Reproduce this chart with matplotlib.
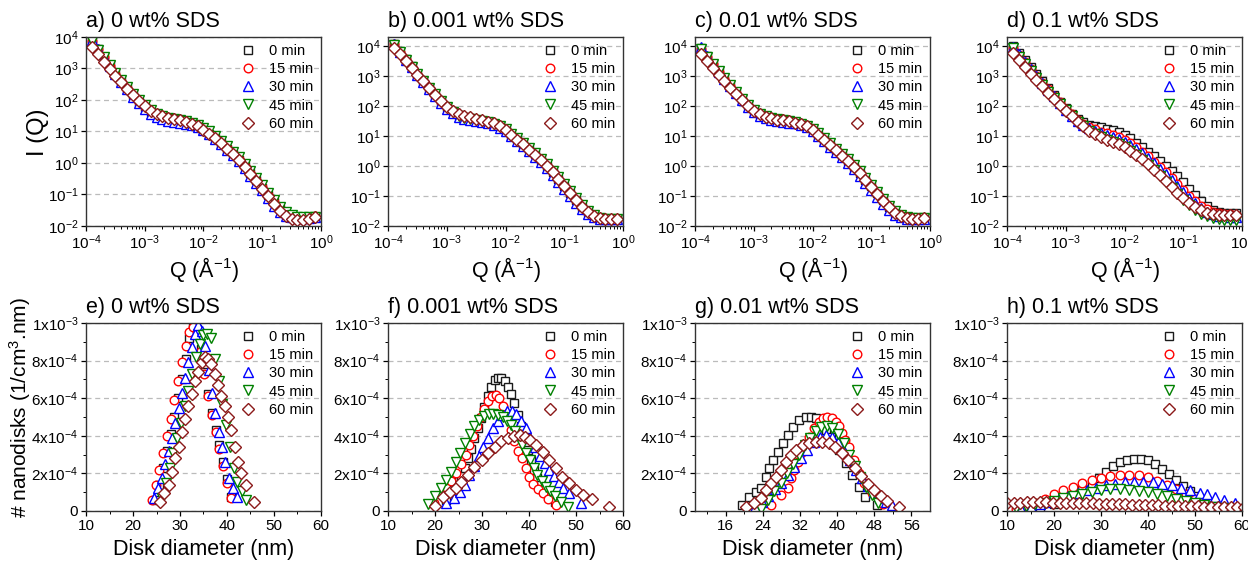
import matplotlib
matplotlib.use("Agg")
import matplotlib.pyplot as plt
import numpy as np
from matplotlib.ticker import LogLocator, NullLocator, MultipleLocator, FixedLocator, FixedFormatter

plt.rcParams['font.family'] = ['Liberation Sans', 'DejaVu Sans']
plt.rcParams['mathtext.fontset'] = 'custom'
plt.rcParams['mathtext.rm'] = 'Liberation Sans'
plt.rcParams['mathtext.it'] = 'Liberation Sans:italic'
plt.rcParams['mathtext.bf'] = 'Liberation Sans:bold'

# ---- SAXS curves: log10(Q) grid and log10(I) for each time ----
LOGQ = [-3.9, -3.8, -3.7, -3.6, -3.5, -3.4, -3.3, -3.2, -3.1, -3.0,
        -2.9, -2.8, -2.7, -2.6, -2.5, -2.4, -2.3, -2.2, -2.1, -2.0,
        -1.9, -1.8, -1.7, -1.6, -1.5, -1.4, -1.3, -1.2, -1.1, -1.0,
        -0.9, -0.8, -0.7, -0.6, -0.5, -0.4, -0.3, -0.2, -0.1]

# a) 0 wt% SDS
A_0 = [3.90, 3.62, 3.36, 3.10, 2.85, 2.61, 2.38, 2.16, 1.95, 1.78, 1.63, 1.52, 1.45, 1.40, 1.36, 1.32, 1.28, 1.23, 1.15, 1.05,
       0.93, 0.79, 0.63, 0.46, 0.29, 0.11, -0.10, -0.32, -0.55, -0.78, -1.02, -1.25, -1.46, -1.61, -1.69, -1.72, -1.72, -1.71, -1.70]
A_15 = [3.88, 3.61, 3.35, 3.09, 2.84, 2.60, 2.37, 2.15, 1.95, 1.78, 1.64, 1.53, 1.46, 1.41, 1.37, 1.33, 1.29, 1.24, 1.16, 1.06,
        0.94, 0.80, 0.64, 0.47, 0.30, 0.12, -0.09, -0.31, -0.54, -0.77, -1.01, -1.24, -1.45, -1.60, -1.68, -1.71, -1.71, -1.70, -1.69]
A_30 = [3.92, 3.63, 3.36, 3.09, 2.83, 2.58, 2.34, 2.11, 1.90, 1.72, 1.57, 1.46, 1.39, 1.34, 1.31, 1.28, 1.25, 1.21, 1.14, 1.04,
        0.91, 0.76, 0.60, 0.42, 0.24, 0.05, -0.17, -0.40, -0.63, -0.87, -1.12, -1.36, -1.56, -1.68, -1.73, -1.75, -1.75, -1.74, -1.73]
A_45 = [3.86, 3.60, 3.35, 3.10, 2.86, 2.63, 2.41, 2.20, 2.00, 1.83, 1.68, 1.57, 1.49, 1.44, 1.40, 1.37, 1.33, 1.28, 1.21, 1.12,
        1.00, 0.86, 0.70, 0.53, 0.36, 0.18, -0.02, -0.24, -0.47, -0.70, -0.94, -1.18, -1.40, -1.57, -1.66, -1.70, -1.71, -1.71, -1.70]
A_60 = [3.68, 3.45, 3.22, 2.99, 2.77, 2.56, 2.36, 2.15, 1.96, 1.80, 1.66, 1.56, 1.49, 1.44, 1.40, 1.36, 1.31, 1.25, 1.16, 1.05,
        0.92, 0.78, 0.62, 0.44, 0.27, 0.08, -0.14, -0.36, -0.58, -0.82, -1.06, -1.30, -1.52, -1.68, -1.77, -1.80, -1.80, -1.78, -1.73]

# b) 0.001 wt% SDS
B_0 = [4.08, 3.82, 3.57, 3.32, 3.08, 2.84, 2.61, 2.38, 2.16, 1.97, 1.82, 1.71, 1.64, 1.59, 1.55, 1.51, 1.47, 1.41, 1.32, 1.20,
       1.05, 0.89, 0.73, 0.56, 0.39, 0.20, 0.01, -0.20, -0.42, -0.65, -0.89, -1.12, -1.35, -1.54, -1.67, -1.74, -1.77, -1.77, -1.76]
B_15 = [4.06, 3.80, 3.56, 3.31, 3.07, 2.83, 2.60, 2.37, 2.15, 1.96, 1.81, 1.70, 1.63, 1.58, 1.54, 1.50, 1.46, 1.40, 1.31, 1.19,
        1.04, 0.88, 0.72, 0.55, 0.38, 0.19, 0.00, -0.21, -0.43, -0.66, -0.90, -1.13, -1.36, -1.55, -1.68, -1.74, -1.77, -1.77, -1.76]
B_30 = [4.08, 3.81, 3.55, 3.29, 3.04, 2.80, 2.56, 2.33, 2.11, 1.91, 1.76, 1.65, 1.58, 1.53, 1.49, 1.46, 1.42, 1.37, 1.28, 1.16,
        1.01, 0.84, 0.67, 0.49, 0.31, 0.12, -0.08, -0.29, -0.52, -0.75, -0.99, -1.22, -1.44, -1.61, -1.71, -1.76, -1.78, -1.78, -1.77]
B_45 = [4.04, 3.79, 3.55, 3.31, 3.07, 2.84, 2.61, 2.39, 2.17, 1.96, 1.79, 1.67, 1.60, 1.56, 1.53, 1.50, 1.46, 1.41, 1.33, 1.22,
        1.08, 0.93, 0.77, 0.60, 0.43, 0.25, 0.06, -0.15, -0.37, -0.60, -0.84, -1.07, -1.30, -1.50, -1.64, -1.72, -1.76, -1.77, -1.76]
B_60 = [3.95, 3.73, 3.50, 3.27, 3.04, 2.82, 2.60, 2.38, 2.16, 1.98, 1.84, 1.74, 1.67, 1.62, 1.57, 1.53, 1.48, 1.42, 1.33, 1.20,
        1.04, 0.88, 0.72, 0.55, 0.38, 0.19, 0.00, -0.21, -0.43, -0.66, -0.90, -1.12, -1.35, -1.54, -1.67, -1.74, -1.77, -1.77, -1.76]

# c) 0.01 wt% SDS
C_0 = [3.92, 3.66, 3.41, 3.16, 2.92, 2.69, 2.46, 2.24, 2.03, 1.85, 1.73, 1.64, 1.59, 1.55, 1.52, 1.49, 1.45, 1.40, 1.32, 1.21,
       1.05, 0.88, 0.71, 0.53, 0.36, 0.17, -0.02, -0.23, -0.45, -0.68, -0.91, -1.14, -1.37, -1.55, -1.66, -1.72, -1.74, -1.74, -1.73]
C_15 = [3.90, 3.65, 3.40, 3.15, 2.91, 2.68, 2.45, 2.23, 2.02, 1.84, 1.72, 1.64, 1.59, 1.55, 1.52, 1.49, 1.45, 1.40, 1.32, 1.21,
        1.05, 0.88, 0.71, 0.53, 0.36, 0.17, -0.02, -0.23, -0.45, -0.68, -0.91, -1.14, -1.37, -1.55, -1.66, -1.72, -1.74, -1.74, -1.73]
C_30 = [3.96, 3.68, 3.41, 3.15, 2.90, 2.66, 2.42, 2.19, 1.98, 1.80, 1.68, 1.60, 1.55, 1.51, 1.48, 1.45, 1.42, 1.37, 1.29, 1.17,
        1.01, 0.83, 0.65, 0.47, 0.29, 0.09, -0.11, -0.33, -0.56, -0.79, -1.03, -1.26, -1.48, -1.63, -1.71, -1.75, -1.76, -1.76, -1.76]
C_45 = [3.90, 3.65, 3.41, 3.17, 2.93, 2.70, 2.47, 2.25, 2.04, 1.86, 1.74, 1.66, 1.60, 1.56, 1.53, 1.50, 1.46, 1.41, 1.34, 1.24,
        1.09, 0.93, 0.76, 0.58, 0.41, 0.22, 0.03, -0.18, -0.40, -0.63, -0.86, -1.09, -1.32, -1.51, -1.63, -1.70, -1.73, -1.74, -1.73]
C_60 = [3.72, 3.49, 3.26, 3.04, 2.82, 2.61, 2.40, 2.19, 1.99, 1.83, 1.72, 1.64, 1.59, 1.55, 1.52, 1.49, 1.45, 1.40, 1.32, 1.21,
        1.04, 0.87, 0.70, 0.52, 0.35, 0.16, -0.03, -0.24, -0.46, -0.69, -0.92, -1.15, -1.38, -1.56, -1.67, -1.73, -1.75, -1.75, -1.74]

# d) 0.1 wt% SDS
D_0 = [4.00, 3.76, 3.52, 3.29, 3.06, 2.83, 2.60, 2.38, 2.15, 1.93, 1.74, 1.58, 1.46, 1.38, 1.33, 1.29, 1.25, 1.20, 1.13, 1.04,
       0.92, 0.78, 0.63, 0.48, 0.33, 0.17, 0.01, -0.16, -0.34, -0.54, -0.76, -0.97, -1.17, -1.33, -1.45, -1.52, -1.55, -1.56, -1.56]
D_15 = [3.95, 3.70, 3.47, 3.24, 3.01, 2.78, 2.56, 2.34, 2.12, 1.91, 1.72, 1.55, 1.41, 1.30, 1.22, 1.15, 1.09, 1.03, 0.96, 0.87,
        0.76, 0.63, 0.48, 0.32, 0.15, -0.03, -0.21, -0.40, -0.60, -0.80, -0.99, -1.17, -1.32, -1.44, -1.52, -1.57, -1.60, -1.61, -1.62]
D_30 = [3.98, 3.72, 3.48, 3.24, 3.00, 2.77, 2.54, 2.32, 2.10, 1.88, 1.68, 1.51, 1.37, 1.26, 1.17, 1.10, 1.03, 0.97, 0.90, 0.81,
        0.70, 0.57, 0.42, 0.26, 0.09, -0.09, -0.28, -0.47, -0.67, -0.87, -1.06, -1.24, -1.40, -1.52, -1.60, -1.65, -1.68, -1.69, -1.70]
D_45 = [3.92, 3.65, 3.40, 3.16, 2.93, 2.70, 2.48, 2.27, 2.06, 1.86, 1.66, 1.48, 1.32, 1.18, 1.06, 0.96, 0.88, 0.80, 0.72, 0.62,
        0.50, 0.37, 0.21, 0.04, -0.14, -0.33, -0.53, -0.73, -0.93, -1.12, -1.30, -1.46, -1.59, -1.68, -1.74, -1.77, -1.79, -1.80, -1.80]
D_60 = [3.76, 3.52, 3.30, 3.08, 2.87, 2.66, 2.45, 2.25, 2.05, 1.85, 1.66, 1.48, 1.32, 1.18, 1.06, 0.96, 0.88, 0.80, 0.72, 0.62,
        0.51, 0.38, 0.22, 0.06, -0.12, -0.31, -0.50, -0.70, -0.90, -1.08, -1.24, -1.38, -1.48, -1.55, -1.60, -1.62, -1.63, -1.62, -1.62]

# ---- size distributions: diameter (nm) and number (x1e-4 1/cm3.nm) ----
# e) 0 wt% SDS
E0_X = [24.8, 25.6, 26.4, 27.2, 28.0, 28.8, 29.6, 30.4, 31.2, 32.0, 32.8, 33.6, 34.4, 35.2, 36.0, 36.8, 37.6, 38.4, 39.2, 40.0, 40.8]
E0_Y = [0.6, 1.4, 2.3, 3.2, 4.1, 5.0, 6.0, 7.0, 8.1, 9.2, 10.0, 9.7, 8.6, 7.4, 6.2, 5.2, 4.3, 3.5, 2.6, 1.7, 0.75]
E15_X = [24.0, 24.8, 25.6, 26.4, 27.2, 28.0, 28.8, 29.6, 30.4, 31.2, 32.0, 32.8, 33.6, 34.4, 35.2, 36.0, 36.8, 37.6, 38.4, 39.2, 40.0, 40.8]
E15_Y = [0.6, 1.4, 2.2, 3.1, 4.0, 4.9, 5.9, 6.9, 7.9, 8.8, 9.5, 9.8, 9.5, 8.5, 7.3, 6.1, 5.1, 4.2, 3.3, 2.4, 1.5, 0.7]
E30_X = [24.4, 25.3, 26.2, 26.9, 27.6, 28.3, 29.0, 29.7, 30.4, 31.1, 31.8, 32.5, 33.2, 33.9, 34.6, 35.4, 36.1, 36.8, 37.5, 38.2,
         38.9, 39.6, 40.4, 41.3, 42.2]
E30_Y = [0.67, 1.2, 1.74, 2.5, 3.2, 3.9, 4.7, 5.5, 6.3, 7.1, 7.9, 8.7, 9.4, 9.9, 9.6, 8.8, 7.5, 6.3, 5.2, 4.2, 3.4, 2.6, 1.74, 1.2, 0.76]
E45_X = [26.2, 27.0, 27.8, 28.6, 29.4, 30.2, 31.0, 31.8, 32.6, 33.4, 34.2, 35.0, 35.8, 36.6, 37.4, 38.2, 39.0, 39.8, 40.6, 41.4,
         42.2, 43.1, 44.0]
E45_Y = [0.7, 1.5, 2.3, 3.1, 3.9, 4.7, 5.6, 6.4, 7.3, 8.2, 8.9, 9.36, 9.4, 9.2, 8.1, 6.9, 5.7, 4.6, 3.4, 2.3, 1.56, 1.05, 0.6]
E60_X = [25.7, 26.7, 27.6, 28.3, 29.0, 29.7, 30.4, 31.1, 31.8, 32.5, 33.2, 33.9, 34.6, 35.3, 36.0, 36.7, 37.4, 38.1, 38.8, 39.5,
         40.2, 40.9, 41.6, 42.3, 43.0, 44.0, 45.7]
E60_Y = [0.5, 0.95, 1.4, 2.1, 2.8, 3.4, 4.2, 4.9, 5.6, 6.2, 6.9, 7.4, 7.9, 8.2, 8.1, 7.8, 7.3, 6.7, 6.1, 5.6, 5.0, 4.3, 3.4, 2.6,
         2.0, 1.4, 0.5]

# f) 0.001 wt% SDS
F0_X = [22.4, 23.8, 25.0, 25.6, 26.3, 27.0, 27.7, 28.4, 29.1, 29.8, 30.5, 31.2, 32.0, 32.7, 33.4, 34.1, 34.8, 35.5, 36.2, 36.9,
        37.6, 38.3, 39.0, 39.7, 40.4, 41.1, 41.8, 42.5, 43.3, 45.5]
F0_Y = [0.6, 1.2, 1.6, 1.85, 2.3, 2.8, 3.3, 3.9, 4.4, 4.95, 5.55, 6.1, 6.6, 6.95, 7.07, 7.07, 6.9, 6.6, 6.2, 5.75,
        5.1, 4.5, 3.9, 3.25, 2.7, 2.2, 1.75, 1.4, 1.15, 0.5]
F15_X = [19.8, 21.5, 22.5, 23.5, 24.5, 25.5, 26.5, 27.3, 28.1, 28.9, 29.7, 30.5, 31.3, 32.1, 32.9, 33.7, 34.5, 35.3, 36.1, 36.9,
         37.7, 38.5, 39.3, 40.1, 40.9, 41.9, 42.9, 44.0, 45.8]
F15_Y = [0.45, 0.9, 1.25, 1.6, 2.0, 2.5, 3.0, 3.5, 4.0, 4.5, 5.0, 5.45, 5.85, 6.1, 6.15, 6.0, 5.6, 5.0, 4.3, 3.7,
         3.2, 2.8, 2.3, 1.8, 1.45, 1.15, 0.95, 0.65, 0.32]
F30_X = [22.4, 24.0, 25.3, 26.3, 27.3, 28.3, 29.3, 30.3, 31.3, 32.3, 33.3, 34.3, 35.3, 36.3, 37.3, 38.3, 39.3, 40.3, 41.3, 42.3,
         43.3, 44.3, 45.3, 46.3, 47.3, 48.6, 51.0]
F30_Y = [0.4, 0.7, 1.0, 1.4, 1.9, 2.4, 2.9, 3.4, 3.9, 4.4, 4.8, 5.1, 5.3, 5.3, 5.15, 4.8, 4.4, 3.9, 3.4, 2.95,
         2.55, 2.2, 1.85, 1.55, 1.25, 0.94, 0.45]
F45_X = [18.5, 20.0, 21.2, 22.4, 23.4, 24.4, 25.4, 26.4, 27.4, 28.4, 29.4, 30.4, 31.4, 32.4, 33.4, 34.4, 35.4, 36.2, 37.0, 37.8,
         38.6, 39.4, 40.2, 41.0, 41.8, 42.7, 43.6, 44.5, 45.5, 46.9, 48.3]
F45_Y = [0.35, 0.8, 1.2, 1.65, 2.1, 2.6, 3.1, 3.6, 4.1, 4.5, 4.85, 5.05, 5.15, 5.15, 5.1, 5.0, 4.8, 4.55, 4.25, 3.9,
         3.5, 3.1, 2.7, 2.3, 1.9, 1.6, 1.3, 1.05, 0.8, 0.5, 0.23]
F60_X = [20.0, 21.7, 23.1, 24.5, 25.6, 27.0, 28.4, 29.9, 31.2, 32.7, 34.1, 35.5, 36.8, 38.0, 39.2, 40.3, 41.5, 42.9, 44.3, 45.7,
         47.1, 48.6, 50.0, 51.4, 53.5, 57.0]
F60_Y = [0.25, 0.76, 1.03, 1.25, 1.56, 1.9, 2.36, 2.72, 3.07, 3.43, 3.7, 3.87, 3.98, 4.02, 3.95, 3.78, 3.5, 3.16, 2.72, 2.27,
         1.83, 1.47, 1.12, 0.85, 0.62, 0.23]

# g) 0.01 wt% SDS
G0_X = [19.5, 21.1, 22.5, 23.65, 24.7, 25.4, 26.1, 27.2, 28.3, 29.35, 30.4, 31.9, 33.3, 34.4, 35.5, 36.6, 37.6, 38.6, 39.5, 40.4,
        41.9, 43.3, 44.7, 46.1, 48.6]
G0_Y = [0.3, 0.76, 1.0, 1.21, 1.83, 2.27, 2.72, 3.16, 3.6, 4.05, 4.49, 4.85, 5.0, 5.02, 4.95, 4.7, 4.3, 3.95, 3.6, 3.25,
        2.54, 1.92, 1.3, 0.76, 0.3]
G15_X = [25.8, 27.95, 29.35, 30.1, 30.8, 31.5, 32.2, 32.9, 34.0, 35.1, 36.1, 37.0, 37.9, 38.8, 39.7, 40.4, 41.1, 41.8, 42.6, 43.6,
         44.7, 45.8, 47.6, 49.9]
G15_Y = [0.32, 0.85, 1.21, 1.74, 2.18, 2.63, 3.07, 3.52, 3.96, 4.4, 4.76, 4.95, 5.0, 4.95, 4.76, 4.5, 4.14, 3.8, 3.43, 2.72,
         2.0, 1.47, 0.94, 0.35]
G30_X = [22.4, 23.8, 25.2, 26.6, 28.0, 29.4, 30.8, 32.2, 33.6, 35.0, 36.3, 37.6, 38.9, 40.2, 41.5, 42.8, 44.1, 45.4, 46.7, 48.0,
         49.3, 50.6, 51.9]
G30_Y = [0.23, 0.5, 0.8, 1.15, 1.5, 1.9, 2.35, 2.8, 3.25, 3.65, 3.95, 4.05, 3.95, 3.65, 3.2, 2.7, 2.2, 1.75, 1.35, 1.0,
         0.7, 0.5, 0.32]
G45_X = [23.65, 25.1, 26.5, 27.9, 29.2, 30.5, 31.8, 33.0, 34.2, 35.4, 36.6, 37.8, 39.0, 40.2, 41.4, 42.6, 43.8, 45.0, 46.2, 47.5,
         48.7]
G45_Y = [0.1, 0.6, 1.05, 1.5, 2.0, 2.5, 3.0, 3.5, 3.9, 4.25, 4.45, 4.5, 4.4, 4.1, 3.6, 3.0, 2.4, 1.8, 1.3, 0.85, 0.45]
G60_X = [20.4, 22.0, 23.65, 24.7, 25.8, 26.9, 27.95, 29.0, 30.1, 31.15, 32.6, 34.0, 35.4, 36.8, 38.2, 39.6, 41.0, 42.4, 43.8, 45.2,
         46.6, 48.0, 49.4, 50.8, 53.3]
G60_Y = [0.23, 0.45, 0.68, 1.12, 1.47, 1.83, 2.18, 2.63, 2.98, 3.25, 3.52, 3.62, 3.68, 3.68, 3.6, 3.4, 3.1, 2.7, 2.3, 1.85,
         1.45, 1.1, 0.8, 0.55, 0.23]

# h) 0.1 wt% SDS
H0_X = [14.0, 17.0, 20.0, 22.0, 24.0, 26.0, 28.0, 29.5, 31.0, 32.5, 34.0, 35.5, 37.0, 38.5, 40.0, 41.5, 43.0, 44.5, 46.0, 47.5,
        49.0, 50.5, 52.0, 54.0, 57.0]
H0_Y = [0.05, 0.15, 0.35, 0.55, 0.8, 1.1, 1.45, 1.78, 2.1, 2.4, 2.6, 2.72, 2.78, 2.78, 2.7, 2.5, 2.25, 1.95, 1.65, 1.35,
        1.05, 0.8, 0.55, 0.3, 0.1]
H15_X = [12.0, 14.0, 16.0, 18.0, 20.0, 22.0, 24.0, 26.0, 28.0, 30.0, 32.0, 34.0, 36.0, 38.0, 40.0, 42.0, 44.0, 46.0, 48.0, 50.0,
         52.0, 54.0]
H15_Y = [0.1, 0.25, 0.45, 0.65, 0.88, 1.1, 1.3, 1.48, 1.63, 1.75, 1.85, 1.9, 1.92, 1.9, 1.8, 1.62, 1.4, 1.15, 0.9, 0.65,
         0.42, 0.25]
H30_X = [13.0, 15.0, 17.0, 19.0, 21.0, 23.0, 25.0, 27.0, 29.0, 31.0, 33.0, 35.0, 37.0, 39.0, 41.0, 43.0, 45.0, 47.0, 49.0, 51.0,
         52.5, 54.3, 56.1, 58.5]
H30_Y = [0.1, 0.2, 0.35, 0.5, 0.65, 0.82, 0.98, 1.12, 1.25, 1.36, 1.45, 1.52, 1.56, 1.56, 1.52, 1.45, 1.36, 1.25, 1.12, 0.98,
         0.9, 0.76, 0.6, 0.45]
H45_X = [12.0, 14.0, 16.0, 18.0, 20.0, 22.0, 24.0, 26.0, 28.0, 30.0, 32.0, 34.0, 36.0, 38.0, 40.0, 42.0, 44.0, 46.0, 48.0, 50.0,
         52.0, 54.0, 56.0]
H45_Y = [0.15, 0.25, 0.35, 0.45, 0.55, 0.67, 0.8, 0.92, 1.03, 1.1, 1.15, 1.16, 1.14, 1.08, 1.0, 0.9, 0.78, 0.66, 0.54, 0.42,
         0.32, 0.23, 0.15]
H60_X = [10.0, 11.4, 12.8, 14.2, 15.6, 17.0, 18.4, 19.8, 21.2, 22.6, 24.0, 25.4, 26.8, 28.2, 29.6, 31.0, 32.4, 33.8, 35.2, 36.6,
         38.0, 39.4, 40.8, 42.2, 43.6, 45.0, 46.4, 47.8, 49.2, 50.6, 52.0, 53.4, 54.8, 56.2, 57.6, 59.0, 60.4]
H60_Y = [0.45, 0.45, 0.45, 0.46, 0.46, 0.46, 0.46, 0.45, 0.45, 0.44, 0.43, 0.42, 0.41, 0.40, 0.39, 0.38, 0.37, 0.36, 0.35, 0.34,
         0.33, 0.32, 0.31, 0.30, 0.29, 0.28, 0.27, 0.26, 0.25, 0.24, 0.23, 0.22, 0.22, 0.21, 0.21, 0.20, 0.20]

LABELS = ['0 min', '15 min', '30 min', '45 min', '60 min']
MARKERS = ['s', 'o', '^', 'v', 'D']
COLORS = ['#1a1a1a', '#ff0000', '#0000ff', '#008000', '#8b1a1a']
SIZES = [5.6, 6.2, 6.6, 6.6, 5.8]

TOP_TITLES = ['a) 0 wt% SDS', 'b) 0.001 wt% SDS', 'c) 0.01 wt% SDS', 'd) 0.1 wt% SDS']
BOT_TITLES = ['e) 0 wt% SDS', 'f) 0.001 wt% SDS', 'g) 0.01 wt% SDS', 'h) 0.1 wt% SDS']
TOP_SERIES = [[A_0, A_15, A_30, A_45, A_60], [B_0, B_15, B_30, B_45, B_60],
              [C_0, C_15, C_30, C_45, C_60], [D_0, D_15, D_30, D_45, D_60]]
BOT_SERIES = [[(E0_X, E0_Y), (E15_X, E15_Y), (E30_X, E30_Y), (E45_X, E45_Y), (E60_X, E60_Y)],
              [(F0_X, F0_Y), (F15_X, F15_Y), (F30_X, F30_Y), (F45_X, F45_Y), (F60_X, F60_Y)],
              [(G0_X, G0_Y), (G15_X, G15_Y), (G30_X, G30_Y), (G45_X, G45_Y), (G60_X, G60_Y)],
              [(H0_X, H0_Y), (H15_X, H15_Y), (H30_X, H30_Y), (H45_X, H45_Y), (H60_X, H60_Y)]]

W, H = 1248, 562
LEFTS = [86, 388, 695, 1007]
AX_W = 235

fig = plt.figure(figsize=(W / 100, H / 100), dpi=100)


def add_ax(left, top, w, h):
    return fig.add_axes([left / W, 1 - (top + h) / H, w / W, h / H])


def style(ax):
    for s in ax.spines.values():
        s.set_linewidth(1.0)
        s.set_color('#333333')
    ax.tick_params(which='major', direction='out', length=3.5, width=0.9, labelsize=11, pad=2)
    ax.tick_params(which='minor', direction='out', length=2, width=0.7)
    ax.yaxis.grid(True, which='major', linestyle=(0, (4, 3)), color='#bbbbbb', linewidth=0.9)
    ax.set_axisbelow(True)


def legend(ax):
    ax.legend(loc='upper right', frameon=False, fontsize=10.5, labelspacing=0.28,
              handlelength=1.0, handletextpad=1.0, borderaxespad=0.2, borderpad=0.3)


qvals = 10 ** np.array(LOGQ)
for i, left in enumerate(LEFTS):
    ax = add_ax(left, 37, AX_W, 189)
    for j, logi in enumerate(TOP_SERIES[i]):
        ax.plot(qvals, 10 ** np.array(logi), linestyle='none', marker=MARKERS[j], ms=SIZES[j],
                mfc='white', mec=COLORS[j], mew=1.0, label=LABELS[j])
    ax.set_xscale('log')
    ax.set_yscale('log')
    ax.set_xlim(1e-4, 1)
    ax.set_ylim(1e-2, 1e4 if i == 0 else 2e4)
    ax.xaxis.set_major_locator(LogLocator(base=10, numticks=10))
    ax.xaxis.set_minor_locator(LogLocator(base=10, subs=np.arange(2, 10), numticks=10))
    ax.yaxis.set_major_locator(LogLocator(base=10, numticks=10))
    ax.yaxis.set_minor_locator(NullLocator())
    style(ax)
    legend(ax)
    fig.text(left / W, 1 - 22 / H, TOP_TITLES[i], fontsize=15.5, ha='left', va='center')
    fig.text((left + AX_W / 2) / W, 1 - 270 / H, r'Q ($\mathregular{\AA^{-1}}$)', fontsize=15.5,
             ha='center', va='center')

ylocs = [0, 2e-4, 4e-4, 6e-4, 8e-4, 1e-3]
ylabs = ['0', r'2x$10^{-4}$', r'4x$10^{-4}$', r'6x$10^{-4}$', r'8x$10^{-4}$', r'1x$10^{-3}$']
for i, left in enumerate(LEFTS):
    ax = add_ax(left, 323, AX_W, 188)
    for j, (xs, ys) in enumerate(BOT_SERIES[i]):
        ax.plot(xs, np.array(ys) * 1e-4, linestyle='none', marker=MARKERS[j], ms=SIZES[j],
                mfc='white', mec=COLORS[j], mew=1.0, label=LABELS[j])
    ax.set_ylim(0, 1e-3)
    if i == 2:
        ax.set_xlim(9.4, 60)
        ax.set_xticks([16, 24, 32, 40, 48, 56])
        ax.xaxis.set_minor_locator(FixedLocator([12, 20, 28, 36, 44, 52]))
    else:
        ax.set_xlim(10, 60)
        ax.xaxis.set_major_locator(MultipleLocator(10))
        ax.xaxis.set_minor_locator(MultipleLocator(5))
    ax.yaxis.set_major_locator(FixedLocator(ylocs))
    ax.yaxis.set_major_formatter(FixedFormatter(ylabs))
    ax.yaxis.set_minor_locator(MultipleLocator(1e-4))
    style(ax)
    legend(ax)
    fig.text(left / W, 1 - 308 / H, BOT_TITLES[i], fontsize=15.5, ha='left', va='center')
    fig.text((left + AX_W / 2) / W, 1 - 550 / H, 'Disk diameter (nm)', fontsize=15.5,
             ha='center', va='center')

fig.text(38 / W, 1 - 132 / H, 'I (Q)', fontsize=17, rotation=90, ha='center', va='center')
fig.text(20 / W, 1 - 408 / H, r'# nanodisks (1/cm$^{3}$.nm)', fontsize=15, rotation=90,
         ha='center', va='center')

fig.savefig('out.png', dpi=100, facecolor='white')
